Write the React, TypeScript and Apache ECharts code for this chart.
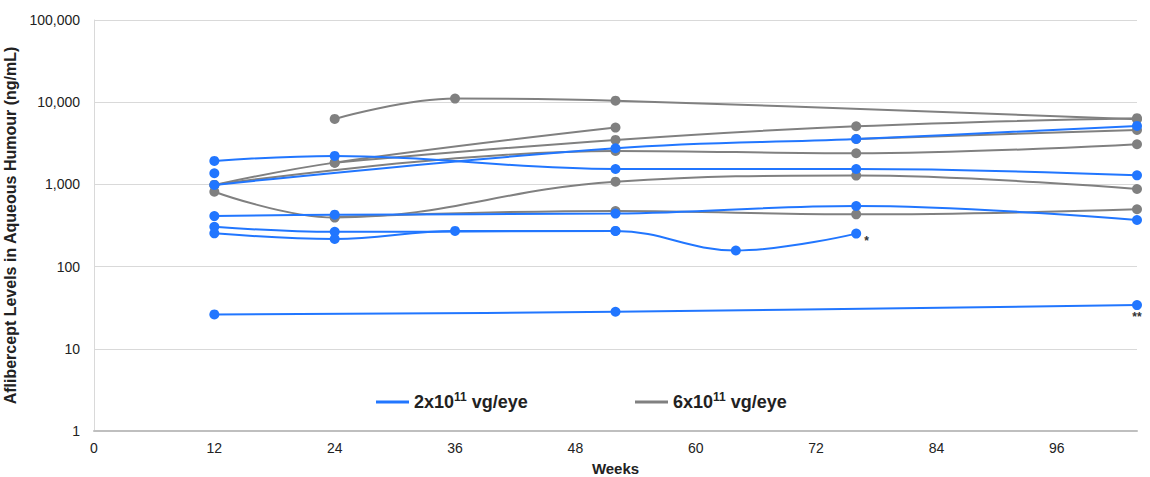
import React, { useEffect, useRef } from "react";
import * as echarts from "echarts";

// ---- data: [week, aflibercept ng/mL] ----
const LOW_NAME = "2x10^11 vg/eye";
const HIGH_NAME = "6x10^11 vg/eye";

const lowA = [[12, 1930], [24, 2220], [52, 1540], [76, 1540], [104, 1290]];
const lowB = [[12, 985], [52, 2750], [76, 3570], [104, 5150]];
const lowC = [[12, 1366]];
const lowD = [[12, 412], [24, 428], [52, 442], [76, 546], [104, 369]];
const lowE = [[12, 305], [24, 265], [52, 272]];
const lowF = [[12, 254], [24, 217], [36, 272], [52, 271], [64, 157], [76, 252]];
const lowG = [[12, 26.2], [52, 28.2], [104, 34]];

const highA = [[24, 6260], [36, 11070], [52, 10450], [104, 6200]];
const highB = [[12, 985], [24, 1840], [52, 4910]];
const highC = [[24, 1840], [52, 3474], [76, 5100], [104, 6400]];
const highD = [[12, 815], [24, 395], [52, 1079], [76, 1280], [104, 880]];
const highE = [[24, 400], [52, 475], [76, 432], [104, 498]];
const highF = [[12, 985], [52, 2553], [76, 2393], [104, 3080]];
const highG = [[76, 3570], [104, 4600]];

const lowSeries = [lowA, lowB, lowC, lowD, lowE, lowF, lowG];
const highSeries = [highA, highB, highC, highD, highE, highF, highG];
// footnote marks on the last point of a low-dose series (by index)
const lowNotes: Record<number, string> = { 5: "*", 6: "**" };

const xTicks = { min: 0, max: 104, interval: 12 };
const yRange = { min: 1, max: 100000 };

const BLUE = "#2176ff";
const GRAY = "#808080";
const FONT = "'Liberation Sans', Arial, Helvetica, sans-serif";
const TXT = "#222";

export default function App() {
  const ref = useRef<HTMLDivElement>(null);
  useEffect(() => {
    if (!ref.current) return;
    const chart = echarts.init(ref.current, undefined, { renderer: "svg" });

    const mk = (pts: number[][], name: string, color: string, z: number, note?: string) => ({
      type: "line",
      name,
      smooth: 0.4,
      symbol: "circle",
      symbolSize: 10,
      z,
      lineStyle: { width: 2, color },
      itemStyle: { color },
      emphasis: { disabled: true },
      data: pts.map((p, i) => {
        if (note && i === pts.length - 1) {
          return note === "*"
            ? {
                value: p,
                label: { show: true, formatter: note, position: "right", distance: 3, offset: [0, 7], fontSize: 12, fontWeight: "bold", color: "#333", fontFamily: FONT },
              }
            : {
                value: p,
                label: { show: true, formatter: note, position: "bottom", distance: 1, fontSize: 12, fontWeight: "bold", color: "#333", fontFamily: FONT },
              };
        }
        return p;
      }),
    });

    const series = [
      ...highSeries.map((s) => mk(s, HIGH_NAME, GRAY, 2)),
      ...lowSeries.map((s, i) => mk(s, LOW_NAME, BLUE, 3, lowNotes[i])),
    ];

    const rich = {
      b: { fontSize: 18, fontWeight: "bold", color: TXT, fontFamily: FONT, lineHeight: 22 },
      s: { fontSize: 12, fontWeight: "bold", color: TXT, fontFamily: FONT, lineHeight: 14, verticalAlign: "top" },
    };
    const legendBase = {
      icon: "rect",
      itemWidth: 33,
      itemHeight: 3,
      top: 386,
      selectedMode: false,
      textStyle: { rich },
    };

    chart.setOption({
      animation: false,
      backgroundColor: "#fff",
      textStyle: { fontFamily: FONT },
      grid: { left: 94, right: 13, top: 20, bottom: 46, outerBoundsMode: "none", containLabel: false },
      legend: [
        { ...legendBase, left: 371, data: [LOW_NAME], formatter: () => "{b|2x10}{s|11}{b| vg/eye}" },
        { ...legendBase, left: 630, data: [HIGH_NAME], formatter: () => "{b|6x10}{s|11}{b| vg/eye}" },
      ],
      xAxis: {
        type: "value",
        min: xTicks.min,
        max: xTicks.max,
        interval: xTicks.interval,
        name: "Weeks",
        nameLocation: "middle",
        nameGap: 30,
        nameTextStyle: { fontSize: 15, fontWeight: "bold", color: TXT, fontFamily: FONT },
        axisLine: { show: true, lineStyle: { color: "#bfbfbf", width: 2 } },
        axisTick: { show: false },
        splitLine: { show: false },
        axisLabel: { fontSize: 14, color: TXT, margin: 10, showMaxLabel: false, fontFamily: FONT },
      },
      yAxis: {
        type: "log",
        logBase: 10,
        min: yRange.min,
        max: yRange.max,
        name: "Aflibercept Levels in Aqueous Humour (ng/mL)",
        nameLocation: "middle",
        nameGap: 68,
        nameTextStyle: { fontSize: 16, fontWeight: "bold", color: TXT, fontFamily: FONT },
        axisLine: { show: true, lineStyle: { color: "#d9d9d9", width: 1 } },
        axisTick: { show: false },
        splitLine: { show: true, lineStyle: { color: "#d9d9d9", width: 1 } },
        axisLabel: {
          fontSize: 14,
          color: TXT,
          margin: 14,
          fontFamily: FONT,
          formatter: (v: number) => Math.round(v).toLocaleString("en-US"),
        },
      },
      series,
    });
    return () => chart.dispose();
  }, []);

  return <div ref={ref} style={{ position: "absolute", left: 0, top: 0, width: 1150, height: 477 }} />;
}
